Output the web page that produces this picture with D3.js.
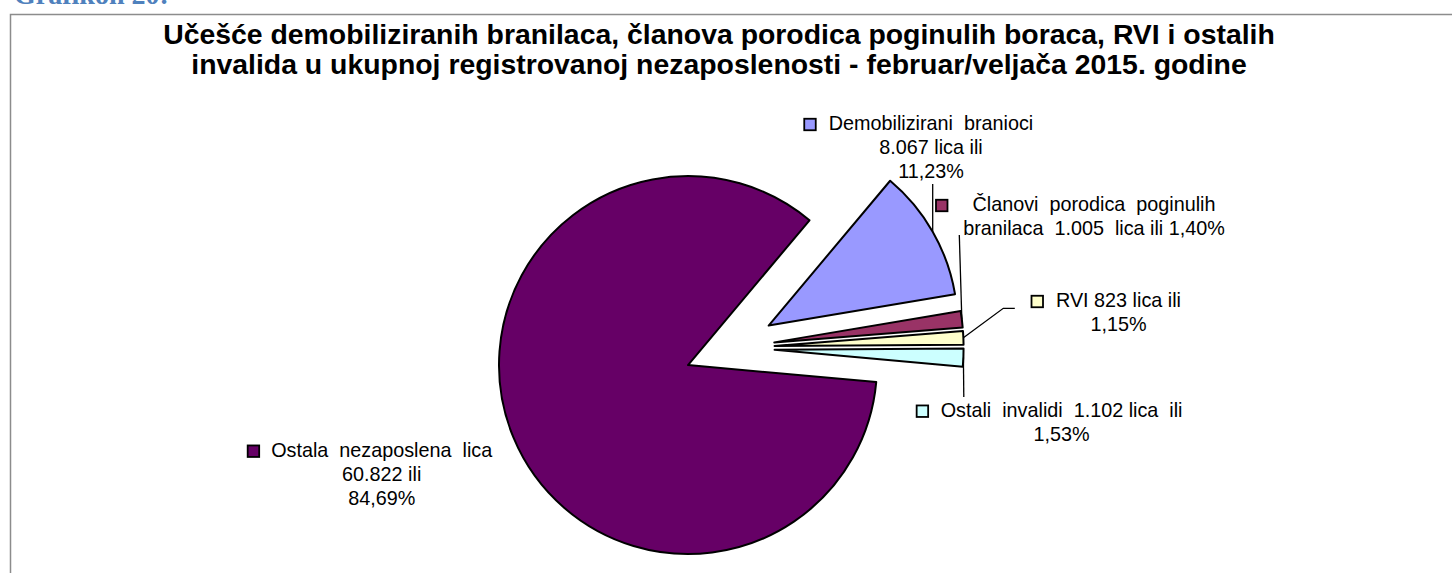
<!DOCTYPE html>
<html>
<head>
<meta charset="utf-8">
<script src="https://cdn.jsdelivr.net/npm/d3@7"></script>
<style>
  html, body { margin: 0; padding: 0; background: #fff; overflow: hidden; }
  svg { display: block; }
  text { font-family: "Liberation Sans", Arial, sans-serif; white-space: pre; }
</style>
</head>
<body>
<div id="chart"></div>
<script>
// Data
const categories = [
    "Demobilizirani branioci",
    "Članovi porodica poginulih branilaca",
    "RVI",
    "Ostali invalidi",
    "Ostala nezaposlena lica"
];
const persons = [8067, 1005, 823, 1102, 60822];
const colors = ["#9999ff", "#993366", "#ffffcc", "#ccffff", "#660066"];

// Label text, {n} = number of persons, {p} = share
const labelLines = [
    ["Demobilizirani  branioci", "{n} lica ili", "{p}%"],
    ["Članovi  porodica  poginulih", "branilaca  {n}  lica ili {p}%"],
    ["RVI {n} lica ili", "{p}%"],
    ["Ostali  invalidi  {n} lica  ili", "{p}%"],
    ["Ostala  nezaposlena  lica", "{n} ili", "{p}%"]
];

const titleLines = [
    "Učešće demobiliziranih branilaca, članova porodica poginulih boraca, RVI i ostalih",
    "invalida u ukupnoj registrovanoj nezaposlenosti - februar/veljača 2015. godine"
];

const width = 1452, height = 573;
const cx = 729.6, cy = 347.9, radius = 189, explode = 45;
const startDeg = 40;
const lineStep = 24;

// where each label sits and how its leader line runs (label side points)
const labelLayout = [
    { x: 931, y: 130, keyGap: 13, leader: "up", leaderEnd: 184 },
    { x: 1094, y: 211, keyGap: 25, leader: [[959.3, 235]] },
    { x: 1118.5, y: 307, keyGap: 13, leader: [[1003.3, 308.3], [1014.8, 308.3]] },
    { x: 1061.6, y: 416.7, keyGap: 12.5, leader: [[963.8, 397]] },
    { x: 381.7, y: 456.7, keyGap: 12, leader: null }
];

const svg = d3.select("#chart")
    .append("svg")
    .attr("width", width)
    .attr("height", height);

svg.append("rect")
    .attr("width", width)
    .attr("height", height)
    .attr("fill", "#fff");

// Heading of the page, cut at the top
svg.append("text")
    .attr("x", 14)
    .attr("y", 4)
    .attr("fill", "#4f81bd")
    .style("font-family", "'Liberation Serif', 'Times New Roman', serif")
    .attr("font-weight", "bold")
    .attr("font-size", "28px")
    .text("Grafikon 20:");

// Chart area border
svg.append("path")
    .attr("d", `M10.5,${height} V14.5 H${width}`)
    .attr("fill", "none")
    .attr("stroke", "#8c8c8c")
    .attr("stroke-width", 1.5);

// Title
svg.append("g")
    .selectAll("text")
    .data(titleLines)
    .join("text")
    .attr("x", 719)
    .attr("y", (d, i) => 44 + i * 30)
    .attr("text-anchor", "middle")
    .attr("font-weight", "bold")
    .attr("font-size", "28.4px")
    .attr("fill", "#000")
    .text(d => d);

// Pie
const total = d3.sum(persons);
const locale = d3.formatLocale({ decimal: ",", thousands: ".", grouping: [3], currency: ["", ""] });
const fmtCount = locale.format(",d");
const fmtPct = locale.format(".2f");

const a0 = startDeg * Math.PI / 180;
const pie = d3.pie().sort(null).startAngle(a0).endAngle(a0 + 2 * Math.PI);
const arcs = pie(persons);

const arc = d3.arc().innerRadius(0).outerRadius(radius);
const shift = d3.arc().innerRadius(explode).outerRadius(explode);
const rim = d3.arc().innerRadius(radius).outerRadius(radius);

const pieG = svg.append("g").attr("transform", `translate(${cx},${cy})`);

pieG.selectAll("path")
    .data(arcs)
    .join("path")
    .attr("transform", d => `translate(${shift.centroid(d)})`)
    .attr("d", arc)
    .attr("fill", (d, i) => colors[i])
    .attr("stroke", "#000")
    .attr("stroke-width", 2)
    .attr("stroke-linejoin", "round");

// Leader lines
arcs.forEach((d, i) => {
    const lay = labelLayout[i];
    if (!lay.leader) return;
    const s = shift.centroid(d), r = rim.centroid(d);
    const start = [cx + s[0] + r[0], cy + s[1] + r[1]];
    const pts = lay.leader === "up" ? [start, [start[0], lay.leaderEnd]] : [start, ...lay.leader];
    svg.append("path")
        .attr("d", d3.line()(pts))
        .attr("fill", "none")
        .attr("stroke", "#000")
        .attr("stroke-width", 1.3);
});

// Data labels with legend keys
arcs.forEach((d, i) => {
    const lay = labelLayout[i];
    const n = fmtCount(persons[i]);
    const p = fmtPct(persons[i] / total * 100);
    const g = svg.append("g").attr("class", "label").attr("data-name", categories[i]);

    const lines = labelLines[i].map(t => t.replace("{n}", n).replace("{p}", p));
    const texts = g.selectAll("text")
        .data(lines)
        .join("text")
        .attr("x", lay.x)
        .attr("y", (t, k) => lay.y + k * lineStep)
        .attr("text-anchor", "middle")
        .attr("font-size", "19.8px")
        .attr("fill", "#000")
        .text(t => t);

    const first = texts.node().getBBox();
    const key = 11.5;
    g.append("rect")
        .attr("x", first.x - lay.keyGap - key)
        .attr("y", lay.y - 5.5 - key / 2)
        .attr("width", key)
        .attr("height", key)
        .attr("fill", colors[i])
        .attr("stroke", "#000")
        .attr("stroke-width", 1.8);
});
</script>
</body>
</html>
